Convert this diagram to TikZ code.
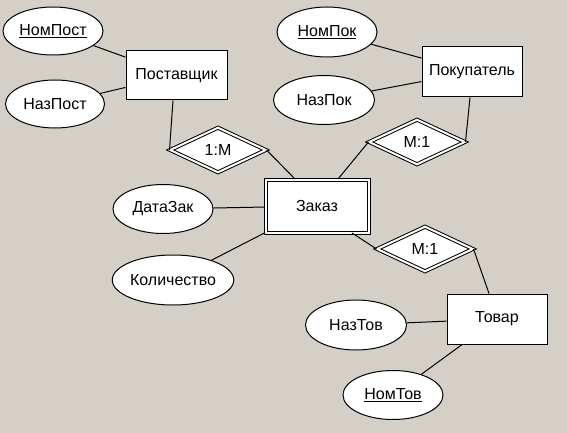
\documentclass[tikz,border=0pt]{standalone}
\usepackage{fontspec}
\setmainfont{Liberation Sans}
\usetikzlibrary{shapes.geometric}
\definecolor{bg}{HTML}{D4D0C8}
\begin{document}
\begin{tikzpicture}[x=1pt,y=-1pt,line width=1pt,
  every node/.style={font=\fontsize{16}{19}\selectfont},
  attr/.style={ellipse,draw,fill=white,minimum width=100pt,minimum height=49pt,inner sep=0pt},
  ent/.style={rectangle,draw,fill=white,minimum width=101pt,minimum height=49pt,inner sep=0pt},
  rel/.style={diamond,draw,double,double distance=2pt,fill=white,minimum width=96pt,minimum height=45pt,inner sep=0pt},
  wk/.style={rectangle,draw,double,double distance=2pt,fill=white,minimum width=103pt,minimum height=53pt,inner sep=0pt}]
\fill[bg] (0,0) rectangle (567,433);
\useasboundingbox (0,0) rectangle (567,433);
% entities
\node[ent] (post) at (176.5,75.5) {Поставщик};
\node[ent,minimum width=100pt,minimum height=50pt] (pok) at (472,72) {Покупатель};
\node[ent,minimum width=100pt,minimum height=50pt] (tov) at (497,319) {Товар};
\node[wk] (zak) at (317,206) {Заказ};
% relationships
\node[rel] (d1) at (218,150) {1:М};
\node[rel] (d2) at (417,142) {М:1};
\node[rel] (d3) at (425,249) {М:1};
% attributes
\node[attr,minimum height=48pt] (nompost) at (53,31) {\underline{НомПост}};
\node[attr,minimum width=99pt,minimum height=48pt] (nazpost) at (55,104) {НазПост};
\node[attr,minimum height=50pt] (nompok) at (327,32) {\underline{НомПок}};
\node[attr,minimum width=101pt] (nazpok) at (324,100) {НазПок};
\node[attr] (datazak) at (163,209) {ДатаЗак};
\node[attr,minimum width=99pt,minimum height=50pt] (kol) at (173,280) {Количество};
\node[attr,minimum width=101pt,minimum height=50pt] (naztov) at (356,325) {НазТов};
\node[attr] (nomtov) at (393,395) {\underline{НомТов}};
% connectors
\draw (nompost) -- (post);
\draw (nazpost) -- (post);
\draw (nompok) -- (pok);
\draw (nazpok) -- (pok);
\draw (datazak) -- (zak);
\draw (kol) -- (zak);
\draw (naztov) -- (tov);
\draw (nomtov) -- (tov);
\draw ([xshift=-3.5pt]post.south) -- (d1.west);
\draw (d1.east) -- ([xshift=-22pt]zak.north);
\draw (d2.west) -- ([xshift=21pt]zak.north);
\draw ([xshift=-2pt]pok.south) -- (d2.east);
\draw ([xshift=35pt]zak.south) -- (d3.west);
\draw (d3.east) -- ([xshift=-8pt]tov.north);
\end{tikzpicture}
\end{document}
